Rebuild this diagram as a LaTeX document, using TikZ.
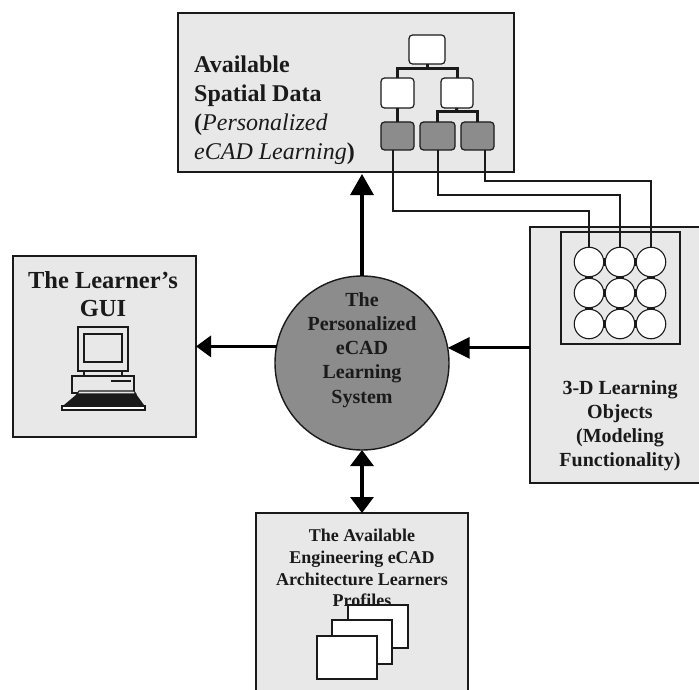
\documentclass[tikz,border=0pt]{standalone}
\usepackage{fontspec}
\setmainfont{Liberation Serif}
\usetikzlibrary{arrows.meta}
\definecolor{panel}{HTML}{E8E8E8}
\definecolor{dark}{HTML}{8C8C8C}
\definecolor{ink}{HTML}{1A1A1A}
\tikzset{
  x=1pt,y=-1pt,
  panelbox/.style={draw=ink,fill=panel,line width=1.4pt,inner sep=0pt,outer sep=0pt,anchor=north west},
  treebox/.style={draw=ink,fill=white,line width=1.2pt,rounded corners=3.5pt,inner sep=0pt,outer sep=0pt,anchor=north west},
  leafbox/.style={treebox,fill=dark},
  treeline/.style={draw=ink,line width=3pt},
  wire/.style={draw=ink,line width=1.2pt},
  ball/.style={circle,draw=ink,fill=white,line width=1.1pt,minimum size=29.5pt,inner sep=0pt,outer sep=0pt},
  link/.style={draw=ink,line width=8pt,shorten <=-0.5pt,shorten >=-0.5pt},
  flow/.style={draw=black,line width=3.2pt},
  page/.style={draw=ink,fill=white,line width=1.3pt,inner sep=0pt,outer sep=0pt,anchor=north west},
  lbl/.style={align=center,inner sep=0pt,text=ink},
  lblleft/.style={align=left,inner sep=0pt,text=ink,anchor=north west},
}
\begin{document}
\begin{tikzpicture}
\useasboundingbox (0,0) rectangle (699,690);
\clip (0,0) rectangle (699,690);
\fill[white] (0,0) rectangle (699,690);

% panels
\node[panelbox,minimum width=336pt,minimum height=159pt] (spatial) at (178,13) {};
\node[panelbox,minimum width=183pt,minimum height=181pt] (gui) at (13,256) {};
\node[panelbox,minimum width=212pt,minimum height=200pt] (profiles) at (256,513) {};
\node[panelbox,minimum width=190pt,minimum height=256pt] (objects) at (530,227) {};
\node[draw=ink,line width=1.3pt,inner sep=0pt,outer sep=0pt,anchor=north west,minimum width=119pt,minimum height=112pt] (grid) at (561,232) {};

% central circle
\node[circle,draw=ink,fill=dark,line width=1.4pt,minimum size=174pt,inner sep=0pt,outer sep=0pt] (core) at (362,363) {};
\node[lbl,font=\bfseries\fontsize{20}{24.2}\selectfont] (coretext) at (362,350) {The\\Personalized\\eCAD\\Learning\\System};

% flow arrows
\draw[flow,shorten >=2pt,-{Triangle[length=21pt,width=23pt]}] (core.north) -- (core.north |- spatial.south);
\draw[flow,-{Triangle[length=15pt,width=21pt]}] (core.169.4) -- (core.169.4 -| gui.east);
\draw[flow,-{Triangle[length=22pt,width=21pt]}] (objects.west |- core.10.6) -- (core.10.6);
\draw[flow,{Triangle[length=16pt,width=23pt]}-{Triangle[length=16pt,width=23pt]}] (core.south) -- (core.south |- profiles.north);

% tree
\node[treebox,minimum width=36pt,minimum height=29pt] (t0) at (409,35) {};
\node[treebox,minimum width=33pt,minimum height=30pt] (t1) at (381,78) {};
\node[treebox,minimum width=32pt,minimum height=30pt] (t2) at (441,78) {};
\node[leafbox,minimum width=33pt,minimum height=28pt] (t3) at (381,122) {};
\node[leafbox,minimum width=35pt,minimum height=28pt] (t4) at (420,122) {};
\node[leafbox,minimum width=33pt,minimum height=28pt] (t5) at (461,122) {};
\coordinate (j0) at (427,69);
\coordinate (j1) at (456,112);
\draw[treeline] (t0.south) -- (j0);
\draw[treeline] (t1.north) |- (j0) -| (t2.north);
\draw[treeline] (t1.south) -- (t3.north);
\draw[treeline] (t2.south) -- (j1);
\draw[treeline] (t4.north) |- (j1) -| (t5.north);

% grid of circles
\foreach \r/\yy in {1/262,2/293,3/324}{
  \foreach \c/\xx in {1/589,2/620,3/651}{
    \node[ball] (c\r\c) at (\xx,\yy) {};
  }
}
\foreach \r in {1,2,3}{
  \draw[link] (c\r1.east) -- (c\r2.west);
  \draw[link] (c\r2.east) -- (c\r3.west);
}
\foreach \c in {1,2,3}{
  \draw[link] (c1\c.south) -- (c2\c.north);
  \draw[link] (c2\c.south) -- (c3\c.north);
}

% wires
\coordinate (w1) at (393,211);
\coordinate (w2) at (438,195);
\coordinate (w3) at (485,181);
\draw[wire] (w1 |- t3.south) -- (w1) -| (c11.north);
\draw[wire] (w2 |- t4.south) -- (w2) -| (c12.north);
\draw[wire] (w3 |- t5.south) -- (w3) -| (c13.north);

% panel texts
\node[lblleft,font=\fontsize{24}{29}\selectfont] (spatialtext) at (194,56) {\textbf{Available}\\\textbf{Spatial Data}\\\textbf{(}\textit{Personalized}\\\textit{eCAD Learning}\textbf{)}};
\node[lbl,font=\bfseries\fontsize{24.5}{28}\selectfont] (guitext) at (103,294) {The Learner's\\GUI};
\node[lbl,font=\bfseries\fontsize{18}{21.7}\selectfont] (profilestext) at (362,568) {The Available\\Engineering eCAD\\Architecture Learners\\Profiles};
\node[lbl,font=\bfseries\fontsize{20}{24}\selectfont] (objectstext) at (620,426) {3-D Learning\\Objects\\(Modeling\\Functionality)};

% computer
\draw[draw=ink,fill=panel,line width=1.2pt] (78,327) rectangle (128,371);
\draw[draw=ink,fill=panel,line width=1.4pt] (84,334) rectangle (122,362);
\draw[draw=ink,line width=1.1pt] (84,371) -- (84,376) (122,371) -- (122,376);
\draw[draw=ink,fill=panel,line width=1.1pt] (72,376) rectangle (134,393);
\draw[draw=ink,line width=1.6pt] (111,381) -- (131,381);
\draw[draw=ink,fill=panel,line width=1.1pt] (79,391) -- (134,391) -- (136,394) -- (77,394) -- cycle;
\fill[ink] (77,394) -- (136,394) -- (144,405) -- (64,405) -- cycle;
\draw[draw=ink,fill=white,line width=1.1pt] (62,406) -- (145,406) -- (145,410) -- (62,410) -- cycle;

% pages
\node[page,minimum width=60pt,minimum height=43pt] (p1) at (348,605) {};
\node[page,minimum width=60pt,minimum height=44pt] (p2) at (332,620) {};
\node[page,minimum width=60pt,minimum height=43pt] (p3) at (317,636) {};
\end{tikzpicture}
\end{document}
